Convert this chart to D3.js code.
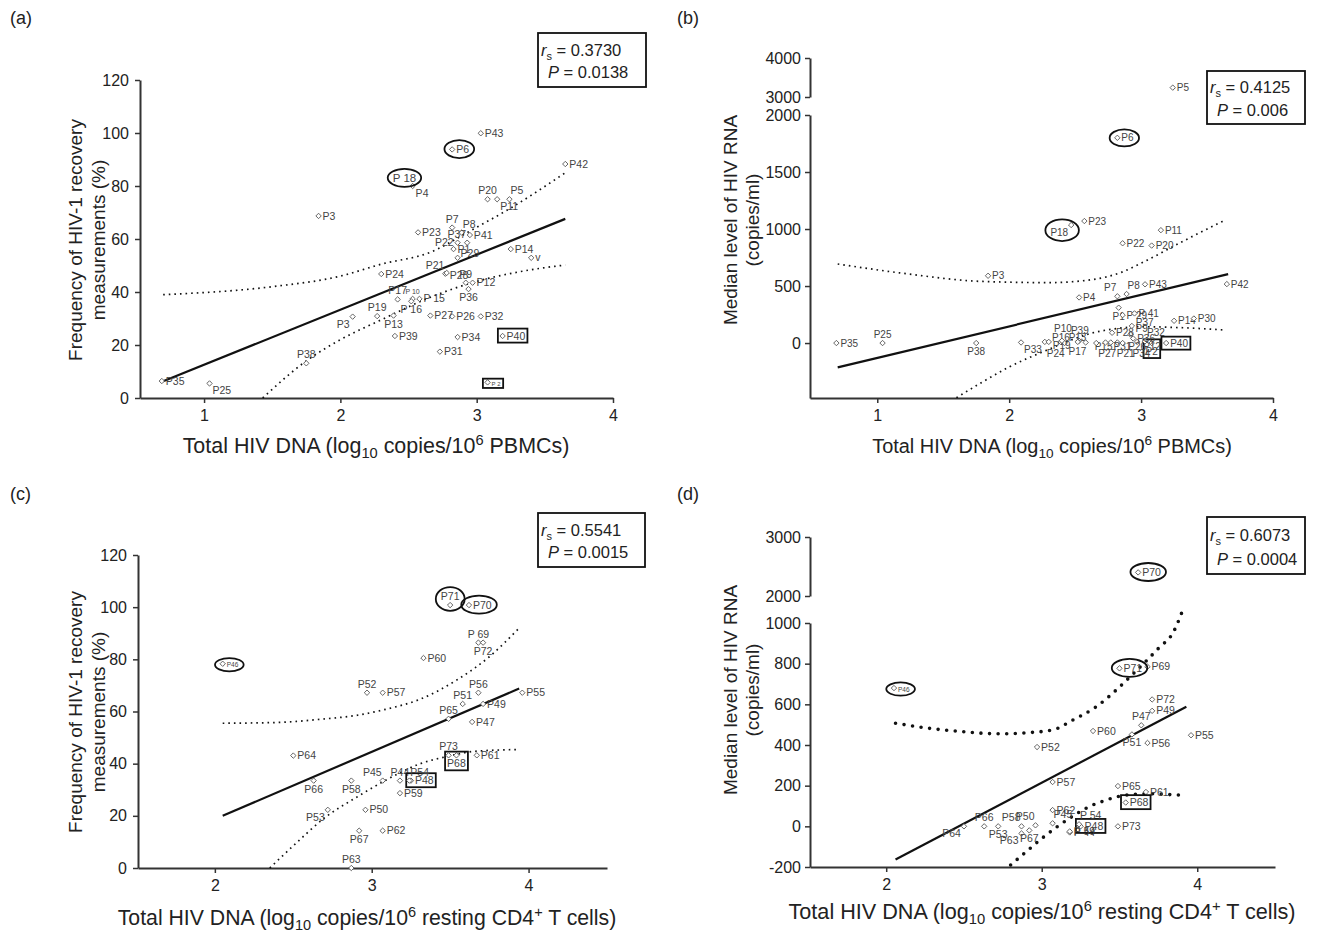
<!DOCTYPE html>
<html><head><meta charset="utf-8">
<script src="https://cdn.jsdelivr.net/npm/d3@7"></script>
<style>
body{margin:0;background:#fff;}
svg{font-family:"Liberation Sans",Arial,Helvetica,sans-serif;}
</style></head><body>
<svg id="c" width="1317" height="936"></svg>
<script>
// ---------- DATA ----------
const patientsAB = ["P1","P2","P3","P4","P5","P6","P7","P8","P9","P10","P11","P12","P13","P14","P15","P16","P17","P18","P19","P20","P21","P22","P23","P24","P25","P26","P27","P28","P29","P30","P31","P32","P33","P34","P35","P36","P37","P38","P39","P40","P41","P42","P43"];
const dnaPBMC = [2.83,3.08,1.84,2.53,3.24,2.82,2.82,2.89,2.92,2.53,3.15,2.97,2.39,3.25,2.58,2.52,2.42,2.47,2.27,3.08,2.77,2.86,2.57,2.30,1.04,2.82,2.66,2.78,2.86,3.40,2.73,3.03,2.09,2.86,0.69,2.94,2.93,1.75,2.40,3.19,2.95,3.65,3.03];
const freqA = [56.2,5.9,68.7,80.0,75.0,93.8,64.3,62.4,43.5,37.4,75.0,43.5,31.1,56.2,37.4,36.5,37.2,83.0,30.9,75.0,46.9,58.6,62.5,46.8,5.5,30.8,31.1,47.2,52.9,52.9,17.5,30.8,30.7,23.0,6.4,41.1,58.6,13.1,23.4,23.4,61.5,88.3,99.9];
const rnaB = [310,0,590,400,3240,1800,410,430,75,20,990,10,10,195,5,10,0,1035,10,855,5,875,1070,10,0,5,0,90,245,215,5,15,5,0,0,40,150,0,20,0,260,517,515];

const patientsCD = ["P44","P45","P46","P47","P48","P49","P50","P51","P52","P53","P54","P55","P56","P57","P58","P59","P60","P61","P62","P63","P64","P65","P66","P67","P68","P69","P70","P71","P72","P73"];
const dnaCD4 = [3.18,3.07,2.05,3.64,3.25,3.71,2.96,3.58,2.97,2.72,3.24,3.96,3.68,3.07,2.87,3.18,3.33,3.67,3.07,2.87,2.50,3.49,2.63,2.92,3.54,3.68,3.62,3.50,3.71,3.49];
const freqC = [33.5,33.5,78.3,56.0,33.5,62.9,22.3,62.9,67.2,22.3,33.5,67.2,67.2,67.2,33.5,28.7,80.5,43.2,14.3,0,43.1,57.2,33.5,14.3,43.2,86.4,100.8,100.8,86.4,43.2];
const rnaD = [-30,15,680,497,0,568,5,452,390,0,10,448,410,218,0,-25,469,169,80,-35,0,198,0,-20,117,785,2400,777,624,0];

// regression lines and confidence bands
const fitAx = [0.7,3.65], fitAy = [6.3,67.6];
const ciAupX = [0.7,1.5,2.0,2.3,2.66,2.95,3.26,3.65], ciAupY = [39,42,46,50.5,55,63,72,85];
const ciAloX = [1.43,1.75,2.0,2.3,2.66,3.0,3.3,3.65], ciAloY = [0,14,22,29.5,38,44,47.5,50.2];

const fitBx = [0.7,3.66], fitBy = [-213,605];
const ciBupX = [0.7,1.2,1.8,2.3,2.62,2.85,3.0,3.33,3.64], ciBupY = [693,611,540,530,555,620,700,900,1080];
const ciBloX = [1.6,1.8,2.0,2.29,2.5,2.62,2.8,3.0,3.3,3.64], ciBloY = [-480,-340,-210,-60,40,85,125,143,135,114];

const fitCx = [2.05,3.94], fitCy = [20,68.8];
const ciCupX = [2.05,2.4,2.67,2.9,3.1,3.3,3.54,3.75,3.94], ciCupY = [55.5,55.8,57,58.5,61,64.5,72,81,92];
const ciCloX = [2.35,2.5,2.71,2.9,3.1,3.31,3.5,3.65,3.92], ciCloY = [0,8.5,19.7,27,34,40,43,44.7,45.4];

const fitDx = [2.06,3.93], fitDy = [-163,588];
const ciDupX = [2.06,2.3,2.5,2.72,2.9,3.08,3.19,3.35,3.49,3.58,3.66,3.75,3.85,3.9], ciDupY = [507,480,465,455,460,476,519,588,678,744,804,875,960,1050];
const ciDloX = [2.8,2.9,3.0,3.1,3.2,3.3,3.4,3.5,3.6,3.7,3.8,3.93], ciDloY = [-190,-125,-60,-2,50,95,125,148,158,160,157,152];

// ticks
const xTicksAB = [1,2,3,4];
const xTicksCD = [2,3,4];
const yTicksFreq = [0,20,40,60,80,100,120];
const yTicksBlow = [0,500,1000,1500,2000], yTicksBhigh = [3000,4000];
const yTicksDlow = [-200,0,200,400,600,800,1000], yTicksDhigh = [2000,3000];

// statistics
const statsA = ["0.3730","0.0138"], statsB = ["0.4125","0.006"], statsC = ["0.5541","0.0015"], statsD = ["0.6073","0.0004"];

// ---------- LAYOUT (label placement / annotations) ----------
const labA = {P1:"r",P2:"r",P3:"r",P4:"br",P5:"tr",P6:"r",P7:"t",P8:"tr",P9:"t",P10:"t",P11:"br",P12:"r",P13:"b",P14:"r",P15:"r",P16:"b",P17:"t",P18:"c",P19:"t",P20:"t",P21:"tl",P22:"l",P23:"r",P24:"r",P25:"br",P26:"r",P27:"r",P28:[3,6,"start"],P29:[3,-1,"start"],P30:"r",P31:"r",P32:"r",P33:"bl",P34:"r",P35:"r",P36:"b",P37:"tl",P38:"t",P39:"r",P40:"r",P41:"r",P42:"r",P43:"r"};
const txtA = {P2:"P 2",P10:"P 10",P15:"P 15",P16:"P 16",P18:"P 18",P30:"v",P33:"P3"};
const sizeA = {P2:6,P10:7,P18:11.5};
const labB = {P1:"b",P2:"b",P3:"r",P4:"r",P5:"r",P6:"r",P7:"tl",P8:"tr",P9:[5,-2,"start"],P10:[-25,-9,"start"],P11:"r",P12:[6,8,"start"],P13:[8,-1,"start"],P14:"r",P15:[9,8,"start"],P16:[-8,-1,"end"],P17:[4,12,"start"],P18:"bl",P19:[8,7,"start"],P20:"r",P21:[6,15,"start"],P22:"r",P23:"r",P24:[-2,15,"start"],P25:"t",P26:[11,8,"start"],P27:[2,14,"start"],P28:"r",P29:"r",P30:"r",P31:[8,8,"start"],P32:[2,-5,"start"],P33:"br",P34:[10,14,"start"],P35:"r",P36:"r",P37:[4,0,"start"],P38:"b",P39:[9,-7,"start"],P40:"r",P41:"r",P42:"r",P43:"r"};
const txtB = {P29:"P 29",P41:"P 41"};
const sizeB = {};
const labC = {P44:"t",P45:"tl",P46:"r",P47:"r",P48:"r",P49:"r",P50:"r",P51:"t",P52:"t",P53:"bl",P54:"tr",P55:"r",P56:"t",P57:"r",P58:"b",P59:"r",P60:"r",P61:"r",P62:"r",P63:"t",P64:"r",P65:"t",P66:"b",P67:"b",P68:"b",P69:"t",P70:"r",P71:"t",P72:"b",P73:"t"};
const txtC = {P69:"P 69"};
const sizeCD = {P46:6.5};
const labD = {P44:"r",P45:"tr",P46:"r",P47:"t",P48:"r",P49:"r",P50:"tl",P51:"b",P52:"r",P53:"b",P54:"tr",P55:"r",P56:"r",P57:"r",P58:"tl",P59:"r",P60:"r",P61:"r",P62:"r",P63:"bl",P64:"bl",P65:"r",P66:"t",P67:"b",P68:"r",P69:"r",P70:"r",P71:"r",P72:"r",P73:"r"};
const txtD = {P44:"P 44",P54:"P 54",P59:"P 59"};

const svg = d3.select("#c");
const INK = "#222";

function panel(o){
  const g = svg.append("g");
  const Y = v => (o.yHigh && v > o.breakAt) ? o.yHigh(v) : o.y(v);
  const xa = g.append("g").attr("transform",`translate(0,${o.xAxisY})`)
    .call(d3.axisBottom(o.x).tickValues(o.xTicks).tickSize(5).tickSizeOuter(0).tickPadding(7).tickFormat(d=>String(d)));
  const ys = [[o.y,o.yTicks]]; if(o.yHigh) ys.push([o.yHigh,o.yTicksHigh]);
  const yas = ys.map(([s,t]) => g.append("g").attr("transform",`translate(${o.yAxisX},0)`)
    .call(d3.axisLeft(s).tickValues(t).tickSize(5).tickSizeOuter(0).tickPadding(o.yPad||6).tickFormat(d=>String(d))));
  [xa,...yas].forEach(a=>{
    a.select(".domain").attr("stroke","#333").attr("stroke-width",2);
    a.selectAll(".tick line").attr("stroke","#333").attr("stroke-width",1.5);
    a.selectAll(".tick text").attr("fill",INK).attr("font-size",o.tickFont).attr("font-family","Liberation Sans, Arial, sans-serif");
  });
  const line = d3.line().curve(d3.curveMonotoneX).x(d=>o.x(d[0])).y(d=>Y(d[1]));
  [[o.upX,o.upY],[o.loX,o.loY]].forEach(([xs,vs])=>{
    const p = g.append("path").datum(xs.map((x,i)=>[x,vs[i]])).attr("d",line).attr("fill","none").attr("stroke","#111");
    if(o.bigDots) p.attr("stroke-width",3.6).attr("stroke-dasharray","0,8.6").attr("stroke-linecap","round");
    else p.attr("stroke-width",1.7).attr("stroke-dasharray","1.6,4");
  });
  g.append("path").datum(o.fitX.map((x,i)=>[x,o.fitY[i]])).attr("d",d3.line().x(d=>o.x(d[0])).y(d=>Y(d[1])))
    .attr("fill","none").attr("stroke","#111").attr("stroke-width",2.2);
  const off = {r:[4,3.6,"start"],l:[-4,3.6,"end"],t:[0,-5,"middle"],b:[0,12,"middle"],tr:[1,-5,"start"],tl:[-1,-5,"end"],br:[3,11,"start"],bl:[-3,11,"end"],c:[0,3.8,"middle"]};
  o.ids.forEach((id,i)=>{
    const px = o.x(o.xs[i]), py = Y(o.vals[i]);
    const pg = g.append("g").attr("transform",`translate(${px},${py})`);
    const pos = o.lab[id] || "r";
    if(pos!=="c") pg.append("path").attr("d","M0,-2.7L2.7,0L0,2.7L-2.7,0Z").attr("fill","#fff").attr("stroke","#555").attr("stroke-width",0.9);
    const [dx,dy,anc] = Array.isArray(pos) ? pos : off[pos];
    pg.append("text").attr("x",dx).attr("y",dy).attr("text-anchor",anc)
      .attr("font-size",(o.sizes&&o.sizes[id])||o.labFont||10.5).attr("fill","#444").text((o.txt&&o.txt[id])||id);
    if(o.circled.includes(id) || o.boxed.includes(id)){
      const bb = pg.node().getBBox();
      const cx = bb.x+bb.width/2, cy = bb.y+bb.height/2;
      if(o.circled.includes(id)){
        pg.append("ellipse").attr("cx",cx).attr("cy",cy).attr("rx",bb.width/2+5).attr("ry",bb.height/2+3)
          .attr("fill","none").attr("stroke","#111").attr("stroke-width",1.8);
      } else {
        pg.append("rect").attr("x",bb.x-2).attr("y",bb.y-1).attr("width",bb.width+4).attr("height",bb.height+2)
          .attr("fill","none").attr("stroke","#111").attr("stroke-width",1.8);
      }
    }
  });
  const sb = o.statBox;
  g.append("rect").attr("x",sb[0]).attr("y",sb[1]).attr("width",sb[2]).attr("height",sb[3]).attr("fill","#fff").attr("stroke","#111").attr("stroke-width",1.8);
  const t1 = g.append("text").attr("x",sb[0]+3).attr("y",sb[1]+sb[3]*0.42).attr("font-size",16.5).attr("fill",INK);
  t1.append("tspan").attr("font-style","italic").text("r");
  t1.append("tspan").attr("font-size",11).attr("dy",4).text("s");
  t1.append("tspan").attr("dy",-4).text(" = "+o.stats[0]);
  const t2 = g.append("text").attr("x",sb[0]+10).attr("y",sb[1]+sb[3]*0.84).attr("font-size",16.5).attr("fill",INK);
  t2.append("tspan").attr("font-style","italic").text("P");
  t2.append("tspan").text(" = "+o.stats[1]);
  g.append("text").attr("x",o.letter[0]).attr("y",o.letter[1]).attr("font-size",18).attr("fill",INK).text(o.letter[2]);
  o.yTitle.forEach((s,k)=>{
    g.append("text").attr("transform",`translate(${o.yTitleX[k]},${o.yTitleY}) rotate(-90)`).attr("text-anchor","middle")
      .attr("dominant-baseline","central").attr("font-size",19).attr("fill",INK).text(s);
  });
  const xt = g.append("text").attr("x",o.xTitle[0]).attr("y",o.xTitle[1]).attr("text-anchor","middle").attr("font-size",19).attr("fill",INK);
  xt.append("tspan").text("Total HIV DNA (log");
  xt.append("tspan").attr("font-size",13).attr("dy",5).text("10");
  xt.append("tspan").attr("dy",-5).text(" copies/10");
  xt.append("tspan").attr("font-size",13).attr("dy",-8).text("6");
  if(o.cd4){
    xt.append("tspan").attr("dy",8).text(" resting CD4");
    xt.append("tspan").attr("font-size",13).attr("dy",-8).text("+");
    xt.append("tspan").attr("dy",8).text(" T cells)");
  } else {
    xt.append("tspan").attr("dy",8).text(" PBMCs)");
  }
  const len = xt.node().getComputedTextLength();
  if(len>0){ const f = o.xTitle[2]/len; xt.attr("font-size",19*f); xt.selectAll("tspan").each(function(){const fs=d3.select(this).attr("font-size"); if(fs) d3.select(this).attr("font-size",fs*f);}); }
}

const freqTitle = ["Frequency of HIV-1 recovery","measurements (%)"];
const rnaTitle = ["Median level of HIV RNA","(copies/ml)"];

panel({ x:d3.scaleLinear([0.53,4],[140,613]), y:d3.scaleLinear([0,120],[398,80]), xAxisY:398, yAxisX:140,
  xTicks:xTicksAB, yTicks:yTicksFreq, tickFont:16,
  ids:patientsAB, xs:dnaPBMC, vals:freqA, lab:labA, txt:txtA, sizes:sizeA,
  fitX:fitAx, fitY:fitAy, upX:ciAupX, upY:ciAupY, loX:ciAloX, loY:ciAloY,
  circled:["P18","P6"], boxed:["P40","P2"], stats:statsA, statBox:[538,33,108,54],
  letter:[10,24,"(a)"], yTitle:freqTitle, yTitleX:[75,98], yTitleY:240, xTitle:[376,453,387] });

panel({ x:d3.scaleLinear([0.49,4],[810,1273]), y:d3.scaleLinear([-482,2000],[398,115]), yHigh:d3.scaleLinear([3000,4000],[97,58]), breakAt:2200,
  xAxisY:398, yAxisX:810, xTicks:xTicksAB, yTicks:yTicksBlow, yTicksHigh:yTicksBhigh, tickFont:16, yPad:4,
  ids:patientsAB, xs:dnaPBMC, vals:rnaB, lab:labB, txt:txtB, sizes:sizeB, labFont:10,
  fitX:fitBx, fitY:fitBy, upX:ciBupX, upY:ciBupY, loX:ciBloX, loY:ciBloY,
  circled:["P18","P6"], boxed:["P40","P2"], stats:statsB, statBox:[1207,71,98,53],
  letter:[677,24,"(b)"], yTitle:rnaTitle, yTitleX:[730,752], yTitleY:220, xTitle:[1052,453,360] });

panel({ x:d3.scaleLinear([1.51,4.5],[138,607]), y:d3.scaleLinear([0,120],[868,555]), xAxisY:868, yAxisX:138,
  xTicks:xTicksCD, yTicks:yTicksFreq, tickFont:16,
  ids:patientsCD, xs:dnaCD4, vals:freqC, lab:labC, txt:txtC, sizes:sizeCD,
  fitX:fitCx, fitY:fitCy, upX:ciCupX, upY:ciCupY, loX:ciCloX, loY:ciCloY,
  circled:["P46","P71","P70"], boxed:["P48","P68"], stats:statsC, statBox:[538,513,107,54],
  letter:[10,500,"(c)"], yTitle:freqTitle, yTitleX:[75,98], yTitleY:712, xTitle:[367,925,499], cd4:true });

panel({ x:d3.scaleLinear([1.51,4.5],[810,1275]), y:d3.scaleLinear([-200,1000],[867,623]), yHigh:d3.scaleLinear([2000,3000],[596,537]), breakAt:1500,
  xAxisY:867, yAxisX:810, xTicks:xTicksCD, yTicks:yTicksDlow, yTicksHigh:yTicksDhigh, tickFont:16, yPad:4, bigDots:true,
  ids:patientsCD, xs:dnaCD4, vals:rnaD, lab:labD, txt:txtD, sizes:sizeCD,
  fitX:fitDx, fitY:fitDy, upX:ciDupX, upY:ciDupY, loX:ciDloX, loY:ciDloY,
  circled:["P46","P71","P70"], boxed:["P48","P68"], stats:statsD, statBox:[1207,517,98,57],
  letter:[677,500,"(d)"], yTitle:rnaTitle, yTitleX:[730,752], yTitleY:690, xTitle:[1042,919,507], cd4:true });
</script>
</body></html>
